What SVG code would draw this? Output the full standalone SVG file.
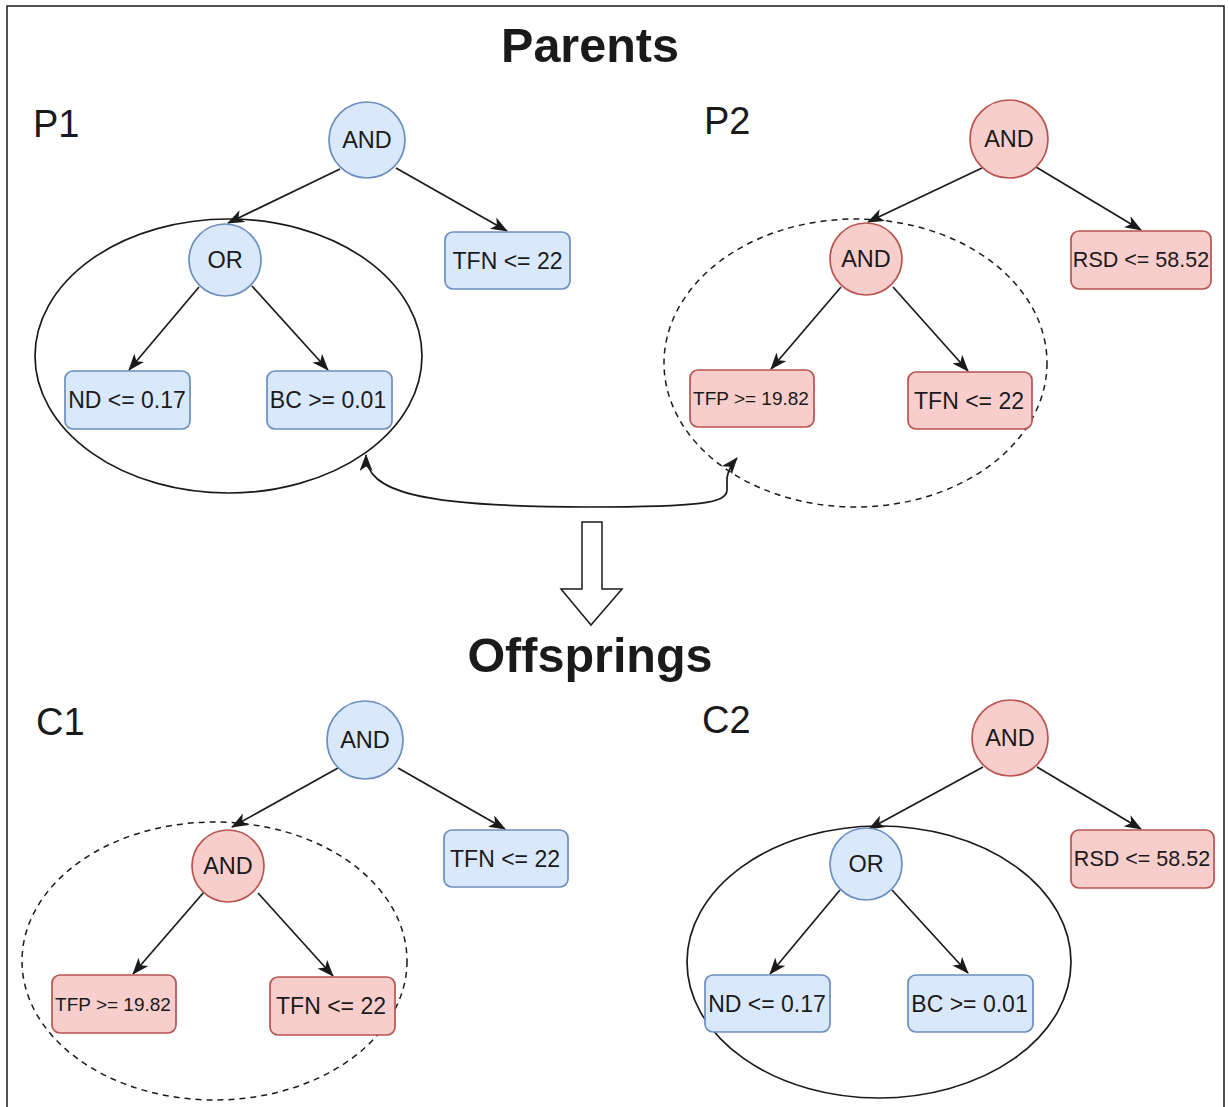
<svg xmlns="http://www.w3.org/2000/svg" width="1229" height="1107" viewBox="0 0 1229 1107">
  <style>
    .frame { fill: #ffffff; stroke: #1a1a1a; stroke-width: 1.5; }
    .blue { fill: #dae8fc; stroke: #6c8ebf; stroke-width: 1.7; }
    .red { fill: #f8cecc; stroke: #b85450; stroke-width: 1.7; }
    .lbl { font-family: "Liberation Sans", Arial, sans-serif; font-size: 23px; fill: #1a1a1a; text-anchor: middle; dominant-baseline: central; }
    .op { font-size: 23.5px; }
    .small { font-size: 19px; }
    .rsd { font-size: 21.5px; }
    .tag { font-family: "Liberation Sans", Arial, sans-serif; font-size: 38px; fill: #1a1a1a; }
    .title { font-family: "Liberation Sans", Arial, sans-serif; font-size: 48.5px; font-weight: bold; fill: #1a1a1a; text-anchor: middle; }
    .edge { fill: none; stroke: #1a1a1a; stroke-width: 1.7; marker-end: url(#arrow); }
    .group-solid { fill: none; stroke: #1a1a1a; stroke-width: 1.7; }
    .group-dash { fill: none; stroke: #1a1a1a; stroke-width: 1.5; stroke-dasharray: 6 5; }
  </style>
  <defs>
    <marker id="arrow" viewBox="0 0 17 13" refX="16" refY="6.5" markerWidth="17" markerHeight="13" markerUnits="userSpaceOnUse" orient="auto-start-reverse">
      <path d="M0,0 L17,6.5 L0,13 L4.5,6.5 Z" fill="#1a1a1a"/>
    </marker>
  </defs>

  <rect class="frame" x="7" y="6" width="1217" height="1110"/>

  <!-- headings -->
  <text class="title" x="590" y="62">Parents</text>
  <text class="title" x="590" y="672">Offsprings</text>
  <text class="tag" x="33" y="137">P1</text>
  <text class="tag" x="704" y="134">P2</text>
  <text class="tag" x="36" y="735">C1</text>
  <text class="tag" x="702" y="733">C2</text>

  <!-- subtree groupings -->
  <g id="groups">
    <ellipse class="group-solid" cx="228.5" cy="356" rx="193.5" ry="137"/>
    <ellipse class="group-dash" cx="855.5" cy="363" rx="191.5" ry="144"/>
    <ellipse class="group-dash" cx="214.5" cy="961" rx="192.5" ry="139"/>
    <ellipse class="group-solid" cx="879" cy="962" rx="192" ry="136"/>
  </g>

  <!-- tree edges and exchange arrows -->
  <g id="connectors">
    <!-- P1 -->
    <line class="edge" x1="340" y1="169" x2="228" y2="223"/>
    <line class="edge" x1="396" y1="168" x2="507" y2="231"/>
    <line class="edge" x1="199" y1="287" x2="129" y2="370"/>
    <line class="edge" x1="252" y1="286" x2="328" y2="370"/>
    <!-- P2 -->
    <line class="edge" x1="982" y1="168" x2="868" y2="222"/>
    <line class="edge" x1="1036" y1="167" x2="1141" y2="230"/>
    <line class="edge" x1="841" y1="287" x2="771" y2="369"/>
    <line class="edge" x1="893" y1="287" x2="968" y2="371"/>
    <!-- C1 -->
    <line class="edge" x1="338" y1="768" x2="232" y2="827"/>
    <line class="edge" x1="398" y1="768" x2="505" y2="829"/>
    <line class="edge" x1="204" y1="892" x2="133" y2="974"/>
    <line class="edge" x1="258" y1="893" x2="333" y2="976"/>
    <!-- C2 -->
    <line class="edge" x1="983" y1="767" x2="869" y2="829"/>
    <line class="edge" x1="1037" y1="767" x2="1141" y2="829"/>
    <line class="edge" x1="840" y1="890" x2="770" y2="974"/>
    <line class="edge" x1="892" y1="890" x2="968" y2="973"/>
    <!-- crossover exchange -->
    <path class="edge" style="marker-start: url(#arrow);" d="M366,455 C366,492 420,507 590,507 C700,507 727,503 727,490 L727,478 C728,470 732,464 737,458"/>
    <!-- hollow down arrow -->
    <path d="M582,522 L602,522 L602,589 L622,589 L591,625 L561,589 L582,589 Z" fill="#ffffff" stroke="#1a1a1a" stroke-width="1.5"/>
  </g>

  <!-- P1 nodes -->
  <g id="p1-and"><circle class="blue" cx="367" cy="140" r="38"/><text class="lbl op" x="367" y="140">AND</text></g>
  <g id="p1-or"><circle class="blue" cx="225" cy="260" r="36"/><text class="lbl op" x="225" y="260">OR</text></g>
  <g id="p1-tfn"><rect class="blue" x="445" y="232" width="125" height="57" rx="8"/><text class="lbl" x="507.5" y="260.5">TFN &lt;= 22</text></g>
  <g id="p1-nd"><rect class="blue" x="65" y="371" width="125" height="58" rx="8"/><text class="lbl" x="127" y="400">ND &lt;= 0.17</text></g>
  <g id="p1-bc"><rect class="blue" x="267" y="371" width="125" height="58" rx="8"/><text class="lbl" x="328" y="400">BC &gt;= 0.01</text></g>

  <!-- P2 nodes -->
  <g id="p2-and"><circle class="red" cx="1009" cy="139" r="39"/><text class="lbl op" x="1009" y="139">AND</text></g>
  <g id="p2-and2"><circle class="red" cx="866" cy="259" r="36"/><text class="lbl op" x="866" y="259">AND</text></g>
  <g id="p2-rsd"><rect class="red" x="1071" y="231" width="140" height="58" rx="8"/><text class="lbl rsd" x="1141" y="260">RSD &lt;= 58.52</text></g>
  <g id="p2-tfp"><rect class="red" x="690" y="370" width="124" height="57" rx="8"/><text class="lbl small" x="751" y="398.5">TFP &gt;= 19.82</text></g>
  <g id="p2-tfn"><rect class="red" x="908" y="372" width="124" height="57" rx="8"/><text class="lbl" x="969" y="400.5">TFN &lt;= 22</text></g>

  <!-- C1 nodes -->
  <g id="c1-and"><ellipse class="blue" cx="365" cy="740" rx="38" ry="39"/><text class="lbl op" x="365" y="740">AND</text></g>
  <g id="c1-and2"><ellipse class="red" cx="228" cy="866" rx="36" ry="36"/><text class="lbl op" x="228" y="866">AND</text></g>
  <g id="c1-tfn"><rect class="blue" x="444" y="830" width="124" height="57" rx="8"/><text class="lbl" x="505" y="858.5">TFN &lt;= 22</text></g>
  <g id="c1-tfp"><rect class="red" x="52" y="975" width="124" height="58" rx="8"/><text class="lbl small" x="113" y="1004">TFP &gt;= 19.82</text></g>
  <g id="c1-tfn2"><rect class="red" x="270" y="977" width="125" height="58" rx="8"/><text class="lbl" x="331" y="1006">TFN &lt;= 22</text></g>

  <!-- C2 nodes -->
  <g id="c2-and"><circle class="red" cx="1010" cy="738" r="38"/><text class="lbl op" x="1010" y="738">AND</text></g>
  <g id="c2-or"><circle class="blue" cx="866" cy="864" r="36"/><text class="lbl op" x="866" y="864">OR</text></g>
  <g id="c2-rsd"><rect class="red" x="1071" y="830" width="143" height="58" rx="8"/><text class="lbl rsd" x="1142" y="859">RSD &lt;= 58.52</text></g>
  <g id="c2-nd"><rect class="blue" x="705" y="975" width="125" height="57" rx="8"/><text class="lbl" x="767" y="1003.5">ND &lt;= 0.17</text></g>
  <g id="c2-bc"><rect class="blue" x="908" y="975" width="125" height="57" rx="8"/><text class="lbl" x="969.5" y="1003.5">BC &gt;= 0.01</text></g>
</svg>
